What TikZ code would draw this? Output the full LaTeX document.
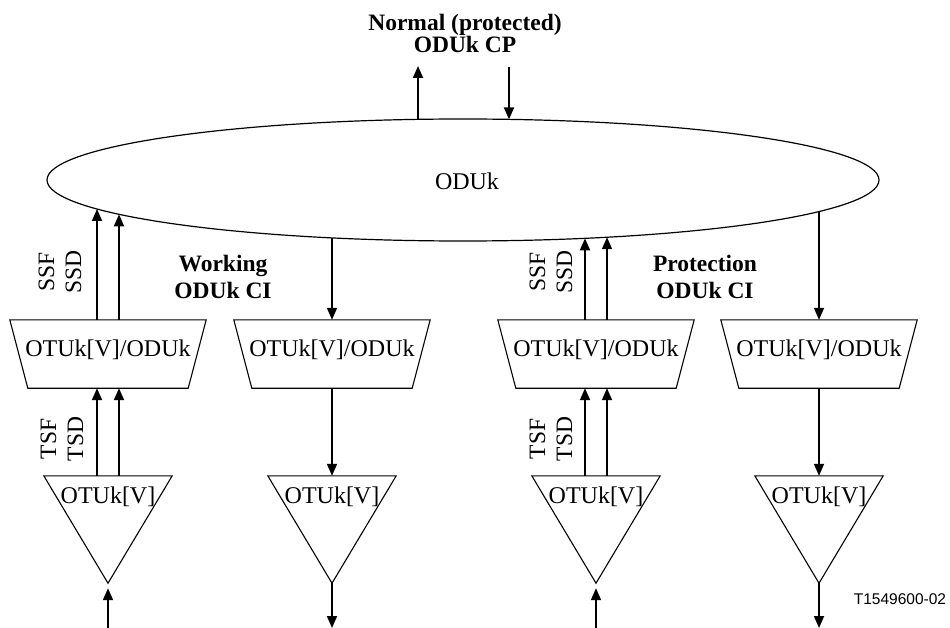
\documentclass[tikz,border=0pt]{standalone}
\usepackage{fontspec}
\setmainfont{Liberation Serif}
\newfontfamily\arialfont{Liberation Sans}
\usetikzlibrary{shapes.geometric,arrows.meta,calc}
\begin{document}
\begin{tikzpicture}[x=1pt,y=-1pt,
  txt/.style={font=\fontsize{24}{28}\selectfont},
  lbl/.style={font=\bfseries\fontsize{23.5}{27}\selectfont, align=center, inner sep=0},
  sig/.style={font=\fontsize{23.5}{27}\selectfont, align=center, rotate=90, inner sep=0},
  trap/.style={txt, minimum width=196pt, inner sep=0, text height=36pt, text depth=32pt},
  tri/.style={txt, minimum width=128pt, inner sep=0, text height=27pt, text depth=80pt},
  conn/.style={line width=1.8pt, -{Triangle[length=12pt,width=10pt]}},
  shp/.style={line width=1.1pt}]
\useasboundingbox (0,0) rectangle (950,628);

% ellipse
\node[draw, ellipse, minimum width=832pt, minimum height=122pt, inner sep=0, outer sep=0, line width=1.2pt] (E) at (463,180) {};
\node[txt] (Et) at (467,181) {ODUk};

% points on the ellipse
\foreach \n/\x in {a/97,b/119,c/332,d/585,e/607,f/819}{
  \pgfmathsetmacro\ey{180+61*sqrt(1-((\x-463)/416)^2)}
  \coordinate (e\n) at (\x,\ey);}
\foreach \n/\x in {g/418,h/509}{
  \pgfmathsetmacro\ey{180-61*sqrt(1-((\x-463)/416)^2)}
  \coordinate (e\n) at (\x,\ey);}

% top label
\node[lbl, font=\bfseries\fontsize{23.5}{22}\selectfont] (cp) at (465,33) {Normal (protected)\\ODUk CP};
\coordinate (cpup) at (418,66);
\coordinate (cpdn) at (509,67);
\draw[conn] (eg) -- (cpup);
\draw[conn] (cpdn) -- (eh);

% trapezoids and triangles
\foreach \n/\x in {1/108,2/332,3/596,4/819}{
  \node[trap] (T\n) at (\x,354) {OTUk[V]/ODUk};
  \draw[shp] (T\n.north west) -- (T\n.north east) -- ([xshift=-18pt]T\n.south east) -- ([xshift=18pt]T\n.south west) -- cycle;
  \node[tri] (R\n) at (\x,529.5) {OTUk[V]};
  \draw[shp] (R\n.north west) -- (R\n.north east) -- (R\n.south) -- cycle;
  \coordinate (b\n) at (\x,628);
}

% column 1 (working, sink)
\draw[conn] ([xshift=-11pt]T1.north) -- (ea);
\draw[conn] ([xshift=11pt]T1.north) -- (eb);
\draw[conn] ([xshift=-11pt]R1.north) -- ([xshift=-11pt]T1.south);
\draw[conn] ([xshift=11pt]R1.north) -- ([xshift=11pt]T1.south);
\draw[conn, shorten >=5pt] (b1) -- (R1.south);
\node[sig] (s1) at (60,272) {SSF\\SSD};
\node[sig] (t1) at (62,439) {TSF\\TSD};

% column 2 (working, source)
\draw[conn] (ec) -- (T2.north);
\draw[conn] (T2.south) -- (R2.north);
\draw[conn] (R2.south) -- (b2);

% column 3 (protection, sink)
\draw[conn] ([xshift=-11pt]T3.north) -- (ed);
\draw[conn] ([xshift=11pt]T3.north) -- (ee);
\draw[conn] ([xshift=-11pt]R3.north) -- ([xshift=-11pt]T3.south);
\draw[conn] ([xshift=11pt]R3.north) -- ([xshift=11pt]T3.south);
\draw[conn, shorten >=5pt] (b3) -- (R3.south);
\node[sig] (s3) at (551,272) {SSF\\SSD};
\node[sig] (t3) at (551,439) {TSF\\TSD};

% column 4 (protection, source)
\draw[conn] (ef) -- (T4.north);
\draw[conn] (T4.south) -- (R4.north);
\draw[conn] (R4.south) -- (b4);

% labels
\node[lbl] (wk) at (223,277) {Working\\ODUk CI};
\node[lbl] (pr) at (705,277) {Protection\\ODUk CI};
\node[font=\arialfont\fontsize{15.5}{18}\selectfont, inner sep=0] (id) at (900,599) {T1549600-02};
\end{tikzpicture}
\end{document}
